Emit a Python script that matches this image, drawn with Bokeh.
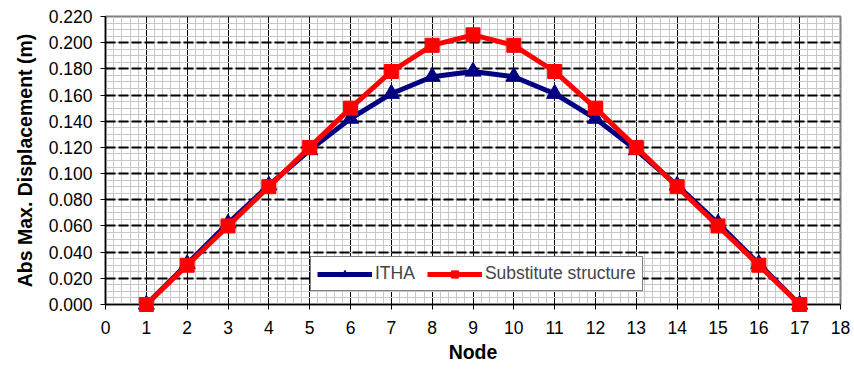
from bokeh.plotting import figure
from bokeh.models import (SingleIntervalTicker, NumeralTickFormatter, Range1d,
                          Legend, LegendItem, ColumnDataSource)
from bokeh.embed import file_html
from bokeh.resources import INLINE

nodes = list(range(1, 18))
itha = [0.000, 0.031, 0.062, 0.091, 0.118, 0.142, 0.161, 0.174, 0.178,
        0.174, 0.161, 0.142, 0.118, 0.091, 0.062, 0.031, 0.000]
subst = [0.000, 0.030, 0.060, 0.090, 0.120, 0.150, 0.178, 0.198, 0.206,
         0.198, 0.178, 0.150, 0.120, 0.090, 0.060, 0.030, 0.000]

FONT = "Liberation Sans"

p = figure(width=854, height=374, output_backend="svg", toolbar_location=None,
           x_range=Range1d(0, 18), y_range=Range1d(0, 0.22),
           min_border_left=105, min_border_right=14, min_border_top=16,
           min_border_bottom=70)
p.background_fill_color = "white"
p.border_fill_color = "white"
p.outline_line_color = "#808080"
p.outline_line_width = 2

p.xaxis.ticker = SingleIntervalTicker(interval=1, num_minor_ticks=5)
p.yaxis.ticker = SingleIntervalTicker(interval=0.02, num_minor_ticks=4)
p.yaxis.formatter = NumeralTickFormatter(format="0.000")

for ax in (p.xaxis[0], p.yaxis[0]):
    ax.axis_line_color = "black"
    ax.axis_line_width = 1.5
    ax.major_tick_line_color = "black"
    ax.major_tick_in = 0
    ax.major_tick_out = 5
    ax.minor_tick_line_color = None
    ax.major_label_text_font = FONT
    ax.major_label_text_font_size = "17.5px"
    ax.major_label_text_color = "black"
    ax.axis_label_text_font = FONT
    ax.axis_label_text_font_size = "19.5px"
    ax.axis_label_text_font_style = "bold"
    ax.axis_label_text_color = "black"

p.xaxis.axis_label = "Node"
p.yaxis.axis_label = "Abs Max. Displacement (m)"
p.xaxis.major_label_standoff = 11
p.xaxis.axis_label_standoff = 4
p.yaxis.major_label_standoff = 8
p.yaxis.axis_label_standoff = 10

# grids
p.xgrid.grid_line_color = "black"
p.xgrid.grid_line_width = 1
p.xgrid.minor_grid_line_color = "#c8c8c8"
p.xgrid.minor_grid_line_width = 1
p.ygrid.grid_line_color = "black"
p.ygrid.grid_line_width = 2
p.ygrid.grid_line_dash = "10 3"
p.ygrid.minor_grid_line_color = "#c8c8c8"
p.ygrid.minor_grid_line_width = 1

src = ColumnDataSource(dict(x=nodes, itha=itha, subst=subst))

l1 = p.line("x", "itha", source=src, line_color="#000080", line_width=5, level="overlay")
m1 = p.scatter("x", "itha", source=src, marker="triangle", size=16,
               fill_color="#000080", line_color="#000080", level="overlay")
l2 = p.line("x", "subst", source=src, line_color="#ff0000", line_width=5, level="overlay")
m2 = p.scatter("x", "subst", source=src, marker="square", size=14,
               fill_color="#ff0000", line_color="#ff0000", level="overlay")

legend = Legend(items=[LegendItem(label="ITHA", renderers=[l1, m1]),
                       LegendItem(label="Substitute structure", renderers=[l2, m2])],
                orientation="horizontal", location=(205, 13),
                label_text_font=FONT, label_text_font_size="17.5px",
                border_line_color="black", border_line_width=1,
                background_fill_color="white", background_fill_alpha=1,
                glyph_width=55, glyph_height=18, padding=6, spacing=12,
                label_standoff=3, margin=0)
p.add_layout(legend)

open("out.html", "w").write(file_html(p, INLINE))
